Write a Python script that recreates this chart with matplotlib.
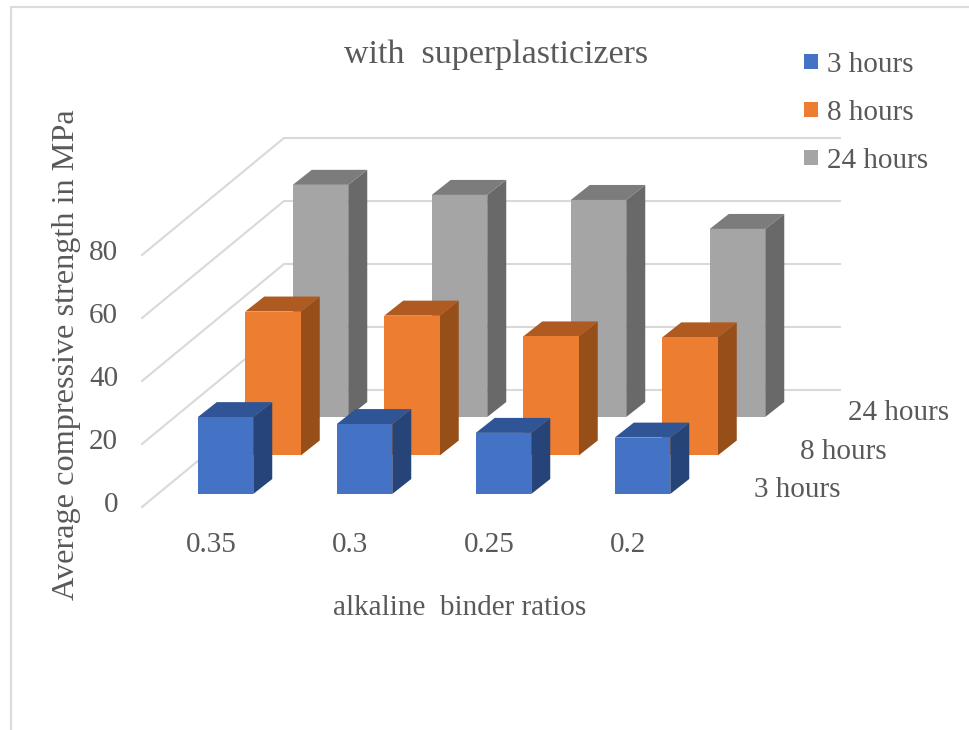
import matplotlib
matplotlib.use("Agg")
import matplotlib.pyplot as plt
from matplotlib.patches import Polygon

# ---- data ----
categories = ["0.35", "0.3", "0.25", "0.2"]
series_names = ["3 hours", "8 hours", "24 hours"]
values_3h = [24.4, 22.2, 19.4, 17.9]
values_8h = [45.7, 44.4, 37.8, 37.5]
values_24h = [73.7, 70.5, 68.9, 59.7]
value_ticks = [0, 20, 40, 60, 80]
all_values = [values_3h, values_8h, values_24h]

# ---- style ----
W, H = 969, 730
front_cols = ["#4472C4", "#ED7D31", "#A5A5A5"]
top_cols = ["#2F5597", "#AE5A21", "#7C7C7C"]
side_cols = ["#264478", "#964F18", "#696969"]
TXT = "#595959"
GRID = "#D9D9D9"
plt.rcParams["font.family"] = ["Liberation Serif", "DejaVu Serif"]

PX_X, PX_Y = 139.0, 3.15     # pixels per category, pixels per MPa
X0, Y0 = 225.5, 494.0        # pixel position of first category / zero of the front row


def xd(px):
    return (px - X0) / PX_X


def yd(py):
    return (Y0 - py) / PX_Y


fig = plt.figure(figsize=(W / 100, H / 100), dpi=100, facecolor="white")
ax = fig.add_axes([0, 0, 1, 1])
ax.set_xlim(xd(0), xd(W))
ax.set_ylim(yd(H), yd(0))
ax.axis("off")

# image frame
ax.plot([xd(11), xd(11), xd(W)], [yd(H), yd(7), yd(7)], color="#DCDCDC", lw=1.6, zorder=1)

# walls: gridlines run along the side wall then the back wall
for v in value_ticks:
    ax.plot([xd(142), xd(284), xd(840)],
            [yd(507) + v, yd(390) + v, yd(390) + v],
            color=GRID, lw=1.5, zorder=2, solid_joinstyle="miter")

# bars (oblique projection)
bar_w = 55.5 / PX_X
depth_x, depth_y = 19 / PX_X, 15 / PX_Y
row_x, row_y = 47.5 / PX_X, 38.5 / PX_Y
handles = []
for r in range(2, -1, -1):
    z = 10 + (2 - r) * 3
    ox, oy = r * row_x, r * row_y
    xs = [i + ox for i in range(len(categories))]
    bars = ax.bar(xs, all_values[r], width=bar_w, bottom=oy, color=front_cols[r],
                  zorder=z + 2, label=series_names[r], linewidth=0)
    handles.insert(0, bars)
    for x, v in zip(xs, all_values[r]):
        l, rt = x - bar_w / 2, x + bar_w / 2
        t, b = oy + v, oy
        ax.add_patch(Polygon([(rt, b), (rt + depth_x, b + depth_y),
                              (rt + depth_x, t + depth_y), (rt, t)],
                             closed=True, fc=side_cols[r], ec="none", zorder=z))
        ax.add_patch(Polygon([(l, t), (rt, t), (rt + depth_x, t + depth_y),
                              (l + depth_x, t + depth_y)],
                             closed=True, fc=top_cols[r], ec="none", zorder=z + 1))

FS = 21
# value tick labels
for v in value_ticks:
    ax.text(xd(118), yd(505) + v, str(v), ha="right", va="center",
            fontsize=FS, color=TXT, zorder=30)

# category labels
for i, c in enumerate(categories):
    ax.text(i + xd(211), yd(545), c, ha="center", va="center",
            fontsize=FS, color=TXT, zorder=30)

# depth axis labels
ax.text(xd(949), yd(413), series_names[2], ha="right", va="center", fontsize=FS, color=TXT)
ax.text(xd(887), yd(452), series_names[1], ha="right", va="center", fontsize=FS, color=TXT)
ax.text(xd(840), yd(490), series_names[0], ha="right", va="center", fontsize=FS, color=TXT)

# titles
ax.text(xd(496), yd(55), "with  superplasticizers", ha="center", va="center",
        fontsize=24.5, color=TXT)
ax.text(xd(460), yd(608), "alkaline  binder ratios", ha="center", va="center",
        fontsize=FS, color=TXT)
ax.text(xd(67), yd(355), "Average compressive strength in MPa", ha="center", va="center",
        rotation=90, fontsize=23.2, color=TXT)

# legend
leg = ax.legend(handles=[h[0] for h in handles], labels=series_names,
                loc="upper left", bbox_to_anchor=(804 / W, 1 - 52 / H),
                bbox_transform=fig.transFigure, frameon=False, fontsize=FS,
                labelcolor=TXT, handlelength=0.49, handleheight=0.42,
                handletextpad=0.3, labelspacing=0.76, borderpad=0, borderaxespad=0)
leg.set_zorder(40)

fig.savefig("out.png", dpi=100)
